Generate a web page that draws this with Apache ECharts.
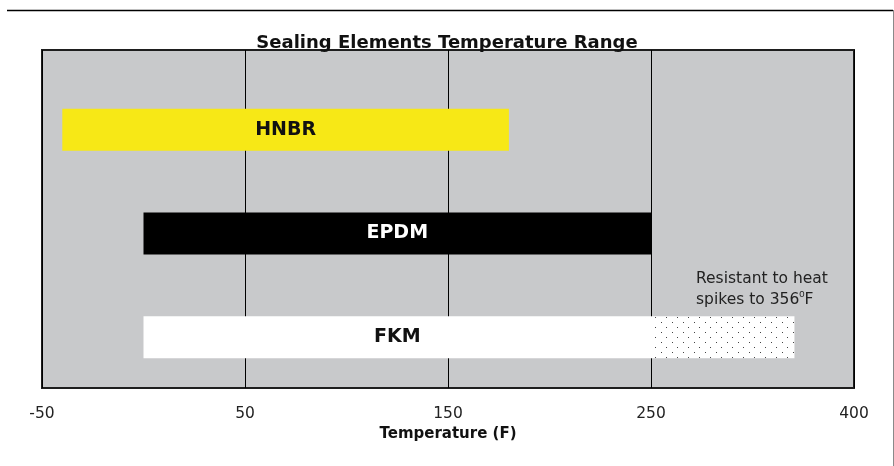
<!DOCTYPE html>
<html><head><meta charset="utf-8">
<script src="https://cdn.jsdelivr.net/npm/echarts@6/dist/echarts.min.js"></script>
<style>html,body{margin:0;padding:0;background:#fff}#c{width:894px;height:466px}</style>
</head><body><div id="c"></div>
<script>
var titleText = 'Sealing Elements Temperature Range';
var axisName = 'Temperature (F)';
var tickLabels = [-50, 50, 150, 250, 400];
var materials = ['HNBR', 'EPDM', 'FKM'];
var rangeMin = [-40, 0, 0];
var rangeMax = [180, 250, 250];
var spikeMax = [null, null, 356];
var barColors = ['#f7e816', '#000000', '#ffffff'];
var labelColors = ['#111111', '#ffffff', '#111111'];
var noteLines = ['Resistant to heat', 'spikes to 356'];

// piecewise axis: each tick label occupies one equal step
function pos(v) {
  for (var i = 0; i < tickLabels.length - 1; i++) {
    var a = tickLabels[i], b = tickLabels[i + 1];
    if (v <= b || i === tickLabels.length - 2) return i + (v - a) / (b - a);
  }
}

var pat = document.createElement('canvas');
pat.width = 11; pat.height = 10;
var pc = pat.getContext('2d');
pc.fillStyle = '#ffffff'; pc.fillRect(0, 0, 11, 10);
pc.fillStyle = '#444444';
pc.fillRect(1, 2, 1, 1); pc.fillRect(6, 7, 1, 1);

var mainData = [], spikeData = [];
materials.forEach(function (m, i) {
  mainData.push([i, pos(rangeMin[i]), pos(rangeMax[i])]);
  if (spikeMax[i] != null) spikeData.push([i, pos(rangeMax[i]), pos(spikeMax[i])]);
});

function rect(params, api) {
  var c = api.value(0);
  var p0 = api.coord([api.value(1), c]);
  var p1 = api.coord([api.value(2), c]);
  var h = api.size([0, 1])[1] * 0.405;
  return { x: p0[0], y: p0[1] - h / 2, width: p1[0] - p0[0], height: h };
}

var chart = echarts.init(document.getElementById('c'), null, { renderer: 'canvas' });
var fontFam = '"DejaVu Sans", sans-serif';
chart.setOption({
  animation: false,
  title: { text: titleText, left: 'center', top: 29,
    textStyle: { fontFamily: fontFam, fontWeight: 'bold', fontSize: 18, color: '#111' } },
  grid: [
    { left: 42, right: 40, top: 50, bottom: 78, show: true, backgroundColor: '#c8c9cb',
      borderColor: '#1e1e1e', borderWidth: 2, z: 0 },
    { left: 42, right: 40, top: 78, bottom: 77 }
  ],
  xAxis: [
    { gridIndex: 0, type: 'value', min: 0, max: tickLabels.length - 1, interval: 1,
      axisLine: { show: false }, axisTick: { show: false },
      splitLine: { show: true, lineStyle: { color: '#000', width: 1 } },
      axisLabel: { margin: 18, fontFamily: fontFam, fontSize: 15.5, color: '#222',
        formatter: function (v) { return String(tickLabels[Math.round(v)]); } },
      name: axisName, nameLocation: 'middle', nameGap: 39,
      nameTextStyle: { fontFamily: fontFam, fontWeight: 'bold', fontSize: 15, color: '#111' } },
    { gridIndex: 1, type: 'value', min: 0, max: tickLabels.length - 1, show: false }
  ],
  yAxis: [
    { gridIndex: 0, type: 'value', show: false, splitLine: { show: false } },
    { gridIndex: 1, type: 'category', data: materials, inverse: true, show: false }
  ],
  series: [
    { type: 'custom', xAxisIndex: 1, yAxisIndex: 1, data: mainData, z: 5,
      renderItem: function (params, api) {
        var i = api.value(0);
        var r = rect(params, api);
        return { type: 'rect', shape: r, style: { fill: barColors[i] },
          textContent: { style: { text: materials[i], fontFamily: fontFam, fontWeight: 'bold',
            fontSize: 19, fill: labelColors[i] } },
          textConfig: { position: 'inside' } };
      } },
    { type: 'custom', xAxisIndex: 1, yAxisIndex: 1, data: spikeData, z: 5,
      renderItem: function (params, api) {
        var r = rect(params, api);
        return { type: 'rect', shape: r, style: { fill: { image: pat, repeat: 'repeat' } } };
      } }
  ]
});

var anchor = chart.convertToPixel({ xAxisIndex: 1, yAxisIndex: 1 }, [pos(rangeMax[2]), 2]);
chart.setOption({
  graphic: [
    { type: 'line', shape: { x1: 7, y1: 10.5, x2: 893, y2: 10.5 }, style: { stroke: '#000', lineWidth: 1.5 } },
    { type: 'line', shape: { x1: 893.5, y1: 10, x2: 893.5, y2: 466 }, style: { stroke: '#8a8a8a', lineWidth: 1 } },
    { type: 'text', x: anchor[0] + 45, y: anchor[1] - 69, z: 10,
      style: { text: noteLines[0] + '\n' + noteLines[1] + '{s|0}F', fontFamily: fontFam, fontSize: 15.5,
        fill: '#222', lineHeight: 21,
        rich: { s: { fontSize: 9.5, verticalAlign: 'top', padding: [0, 0, 8, 0], fill: '#222' } } } }
  ]
});
</script></body></html>
